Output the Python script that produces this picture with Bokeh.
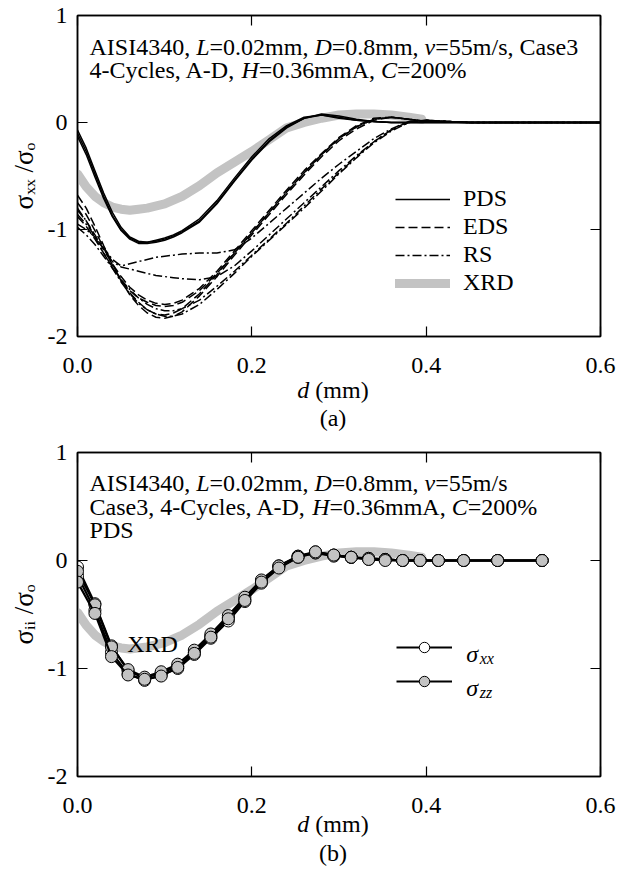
import math
from bokeh.plotting import figure
from bokeh.models import (Range1d, FixedTicker, LinearAxis, Label, Legend,
                          LegendItem, PrintfTickFormatter, Div)
from bokeh.layouts import column
from bokeh.embed import file_html
from bokeh.resources import INLINE

# ---------------- data ----------------
x_ticks = [0.0, 0.2, 0.4, 0.6]
y_ticks = [-2, -1, 0, 1]

# panel (a): depth grid and stress curves
d_a = [0.0, 0.01, 0.02, 0.03, 0.04, 0.05, 0.06, 0.07, 0.08, 0.09, 0.10, 0.11, 0.12,
       0.14, 0.16, 0.18, 0.20, 0.22, 0.24, 0.26, 0.28, 0.30, 0.32, 0.34, 0.36, 0.38,
       0.40, 0.45, 0.50, 0.55, 0.60]
pds_1 = [-0.07, -0.24, -0.45, -0.66, -0.84, -0.98, -1.07, -1.11, -1.12, -1.10, -1.08, -1.05, -1.01,
         -0.90, -0.73, -0.52, -0.32, -0.15, -0.03, 0.05, 0.07, 0.04, 0.02, 0.01, 0.0, 0.0,
         0.0, 0.0, 0.0, 0.0, 0.0]
pds_2 = [-0.10, -0.27, -0.48, -0.69, -0.87, -1.00, -1.08, -1.12, -1.12, -1.11, -1.09, -1.06, -1.02,
         -0.92, -0.75, -0.54, -0.34, -0.17, -0.04, 0.04, 0.07, 0.05, 0.02, 0.01, 0.0, 0.0,
         0.0, 0.0, 0.0, 0.0, 0.0]
pds_3 = [-0.13, -0.30, -0.51, -0.71, -0.88, -1.01, -1.09, -1.13, -1.13, -1.12, -1.10, -1.07, -1.03,
         -0.93, -0.76, -0.55, -0.35, -0.18, -0.05, 0.04, 0.08, 0.06, 0.03, 0.01, 0.0, 0.0,
         0.0, 0.0, 0.0, 0.0, 0.0]
eds_1 = [-0.68, -0.80, -0.97, -1.15, -1.32, -1.48, -1.61, -1.71, -1.78, -1.82, -1.83, -1.81, -1.77,
         -1.62, -1.44, -1.24, -1.05, -0.86, -0.67, -0.49, -0.32, -0.17, -0.06, 0.02, 0.05, 0.03,
         0.01, 0.0, 0.0, 0.0, 0.0]
eds_2 = [-0.75, -0.86, -1.01, -1.17, -1.33, -1.47, -1.59, -1.68, -1.75, -1.79, -1.80, -1.78, -1.74,
         -1.60, -1.42, -1.22, -1.03, -0.84, -0.65, -0.47, -0.30, -0.15, -0.04, 0.03, 0.05, 0.03,
         0.01, 0.0, 0.0, 0.0, 0.0]
eds_3 = [-0.82, -0.92, -1.05, -1.19, -1.32, -1.44, -1.54, -1.61, -1.66, -1.69, -1.70, -1.69, -1.66,
         -1.55, -1.39, -1.20, -1.01, -0.82, -0.63, -0.45, -0.29, -0.14, -0.03, 0.04, 0.05, 0.03,
         0.01, 0.0, 0.0, 0.0, 0.0]
eds_4 = [-0.88, -0.97, -1.09, -1.22, -1.35, -1.47, -1.57, -1.64, -1.68, -1.71, -1.72, -1.71, -1.68,
         -1.57, -1.41, -1.22, -1.03, -0.84, -0.65, -0.47, -0.30, -0.15, -0.04, 0.03, 0.05, 0.03,
         0.01, 0.0, 0.0, 0.0, 0.0]
rs_1 = [-0.80, -0.92, -1.07, -1.22, -1.36, -1.49, -1.60, -1.69, -1.75, -1.79, -1.81, -1.81, -1.79,
        -1.70, -1.56, -1.41, -1.25, -1.10, -0.95, -0.80, -0.64, -0.48, -0.33, -0.19, -0.08, 0.0,
        0.02, 0.0, 0.0, 0.0, 0.0]
rs_2 = [-0.98, -1.05, -1.14, -1.25, -1.36, -1.47, -1.56, -1.64, -1.70, -1.74, -1.76, -1.76, -1.74,
        -1.66, -1.53, -1.39, -1.24, -1.09, -0.94, -0.78, -0.62, -0.47, -0.32, -0.18, -0.07, 0.01,
        0.02, 0.0, 0.0, 0.0, 0.0]
rs_3 = [-0.95, -1.00, -1.07, -1.17, -1.28, -1.34, -1.32, -1.30, -1.28, -1.26, -1.25, -1.24, -1.23,
        -1.22, -1.22, -1.19, -1.08, -0.94, -0.80, -0.66, -0.52, -0.39, -0.27, -0.15, -0.06, 0.01,
        0.02, 0.0, 0.0, 0.0, 0.0]
rs_4 = [-0.86, -0.95, -1.06, -1.18, -1.30, -1.35, -1.37, -1.39, -1.41, -1.43, -1.44, -1.45, -1.46,
        -1.47, -1.44, -1.34, -1.20, -1.05, -0.90, -0.75, -0.60, -0.45, -0.31, -0.18, -0.07, 0.0,
        0.02, 0.0, 0.0, 0.0, 0.0]

# XRD measurement (both panels)
d_xrd = [0.0, 0.01, 0.02, 0.03, 0.04, 0.05, 0.06, 0.07, 0.08, 0.10, 0.12, 0.14, 0.16, 0.18,
         0.20, 0.22, 0.24, 0.26, 0.28, 0.30, 0.32, 0.34, 0.36, 0.38, 0.395]
xrd = [-0.48, -0.60, -0.69, -0.75, -0.79, -0.81, -0.82, -0.81, -0.80, -0.76, -0.69, -0.59, -0.47, -0.37,
       -0.27, -0.16, -0.05, 0.0, 0.04, 0.07, 0.08, 0.08, 0.07, 0.05, 0.03]

# panel (b): PDS nodal values
d_b = [0.0, 0.02, 0.039, 0.058, 0.077, 0.096, 0.115, 0.134, 0.153, 0.173, 0.192, 0.211, 0.231,
       0.253, 0.273, 0.294, 0.314, 0.334, 0.353, 0.373, 0.393, 0.414, 0.443, 0.482, 0.533]
sxx_1 = [-0.06, -0.40, -0.79, -1.02, -1.09, -1.04, -0.98, -0.85, -0.70, -0.53, -0.36, -0.19, -0.05,
         0.04, 0.08, 0.05, 0.03, 0.02, 0.01, 0.0, 0.0, 0.0, 0.0, 0.0, 0.0]
sxx_2 = [-0.14, -0.46, -0.85, -1.05, -1.11, -1.06, -1.00, -0.87, -0.72, -0.56, -0.38, -0.21, -0.06,
         0.03, 0.07, 0.05, 0.03, 0.01, 0.01, 0.0, 0.0, 0.0, 0.0, 0.0, 0.0]
szz_1 = [-0.10, -0.41, -0.80, -1.01, -1.08, -1.03, -0.96, -0.83, -0.68, -0.51, -0.34, -0.18, -0.05,
         0.04, 0.07, 0.04, 0.03, 0.02, 0.01, 0.0, 0.0, 0.0, 0.0, 0.0, 0.0]
szz_2 = [-0.20, -0.49, -0.89, -1.06, -1.10, -1.07, -0.99, -0.86, -0.71, -0.54, -0.37, -0.20, -0.07,
         0.03, 0.08, 0.05, 0.03, 0.01, 0.0, 0.0, 0.0, 0.0, 0.0, 0.0, 0.0]

# ---------------- style ----------------
FONT = "Liberation Serif"
FS = 24
GRAY = "#c3c3c3"

REG = {' ': 250, ',': 250, '-': 333, '.': 250, '/': 278, '=': 564, '%': 833, '(': 333, ')': 333,
       'A': 722, 'C': 667, 'D': 722, 'E': 611, 'H': 722, 'I': 333, 'L': 611, 'P': 556, 'R': 667,
       'S': 556, 'X': 722, 'a': 444, 'c': 444, 'd': 500, 'e': 444, 'i': 278, 'l': 278, 'm': 778,
       'o': 500, 's': 389, 'v': 500, 'x': 500, 'y': 500, 'z': 444, 'σ': 560}
ITA = {'L': 556, 'D': 722, 'v': 444, 'H': 722, 'C': 667, 'd': 500, 'x': 444, 'z': 389, 'i': 278,
       'o': 500, 'σ': 560}


def tw(text, italic, size):
    tab = ITA if italic else REG
    return sum(tab.get(ch, 500) for ch in text) * size / 1000.0


def rich(p, x, y, segs):
    """segs: list of (text, italic, size, shift_down_px); laid out left to right"""
    off = 0.0
    for text, italic, size, shift in segs:
        lead = len(text) - len(text.lstrip(' '))
        off += tw(' ' * lead, italic, size)
        t = text.strip(' ')
        p.add_layout(Label(x=x, y=y, x_offset=off, y_offset=-shift, text=t, text_font=FONT,
                           text_font_size=f"{size}px",
                           text_font_style="italic" if italic else "normal",
                           text_color="black", text_align="left",
                           text_baseline="alphabetic"))
        off += tw(t, italic, size) + tw(' ' * (len(text.lstrip(' ')) - len(t)), italic, size)


def style_axis(ax, labels=True, fmt=None):
    ax.major_tick_in = 10
    ax.major_tick_out = 0
    ax.minor_tick_line_color = None
    ax.axis_line_color = "black"
    ax.axis_line_width = 1.5
    ax.major_tick_line_color = "black"
    ax.major_tick_line_width = 1.2
    if labels:
        ax.major_label_text_font = FONT
        ax.major_label_text_font_style = "normal"
        ax.major_label_text_font_size = f"{FS}px"
        ax.major_label_text_color = "black"
        if fmt:
            ax.formatter = PrintfTickFormatter(format=fmt)
    else:
        ax.major_label_text_font_size = "2px"
        ax.major_label_text_color = None
        ax.major_label_standoff = 0


def make_fig(height, bottom_border, ylabel):
    p = figure(width=622, height=height, output_backend="svg", toolbar_location=None,
               x_range=Range1d(0, 0.6), y_range=Range1d(-2, 1),
               min_border_left=77, min_border_right=22, min_border_top=15,
               min_border_bottom=bottom_border)
    p.grid.visible = False
    p.outline_line_color = "black"
    p.outline_line_width = 1.5
    p.xaxis.ticker = FixedTicker(ticks=x_ticks)
    p.yaxis.ticker = FixedTicker(ticks=y_ticks)
    style_axis(p.xaxis[0], True, "%.1f")
    style_axis(p.yaxis[0], True, "%d")
    p.xaxis.major_label_standoff = 21
    p.yaxis.major_label_standoff = 10
    p.yaxis.axis_label = ylabel
    p.yaxis.axis_label_text_font = FONT
    p.yaxis.axis_label_text_font_style = "normal"
    p.yaxis.axis_label_text_font_size = "27px"
    p.yaxis.axis_label_text_color = "black"
    p.yaxis.axis_label_standoff = 6
    top = LinearAxis(ticker=FixedTicker(ticks=x_ticks))
    style_axis(top, False)
    p.add_layout(top, "above")
    right = LinearAxis(ticker=FixedTicker(ticks=y_ticks))
    style_axis(right, False)
    p.add_layout(right, "right")
    return p


def caption_div(caption, height, shift, lh):
    html = ('<div style="margin-top:%dpx;margin-left:44px;width:578px;text-align:center;'
            'font-family:\'Liberation Serif\';font-size:24px;line-height:%dpx;color:#000;'
            'white-space:nowrap;">'
            '<i>d</i> (mm)<br>%s</div>') % (shift, lh, caption)
    return Div(text=html, width=622, height=height, margin=0,
               styles={"overflow": "visible"})


# ---------------- panel (a) ----------------
pa = make_fig(388, 52, "σₓₓ /σₒ")
r_xrd = pa.line(d_xrd, xrd, line_color=GRAY, line_width=9, line_cap="round", line_join="round")
eds_r = []
for ys in (eds_1, eds_2, eds_3, eds_4):
    eds_r.append(pa.line(d_a, ys, line_color="black", line_width=1.5, line_dash="9 4"))
rs_r = []
for ys in (rs_1, rs_2, rs_3, rs_4):
    rs_r.append(pa.line(d_a, ys, line_color="black", line_width=1.5, line_dash="9 3 2 3"))
pds_r = []
for ys in (pds_1, pds_2, pds_3):
    pds_r.append(pa.line(d_a, ys, line_color="black", line_width=1.5))

leg_a = Legend(items=[LegendItem(label="PDS", renderers=[pds_r[0]]),
                      LegendItem(label="EDS", renderers=[eds_r[0]]),
                      LegendItem(label="RS", renderers=[rs_r[0]]),
                      LegendItem(label="XRD", renderers=[r_xrd])],
               location=(318, 40), orientation="vertical", padding=0, spacing=1,
               glyph_width=55, glyph_height=26, label_height=26, label_standoff=13,
               label_text_font=FONT, label_text_font_size=f"{FS}px", label_text_color="black",
               border_line_color=None, background_fill_alpha=0)
pa.add_layout(leg_a)

rich(pa, 0.0138, 0.710, [("AISI4340, ", False, FS, 0), ("L", True, FS, 0), ("=0.02mm, ", False, FS, 0),
                         ("D", True, FS, 0), ("=0.8mm, ", False, FS, 0), ("v", True, FS, 0),
                         ("=55m/s, Case3", False, FS, 0)])
rich(pa, 0.0138, 0.486, [("4-Cycles, A-D, ", False, FS, 0), ("H", True, FS, 0),
                         ("=0.36mmA, ", False, FS, 0), ("C", True, FS, 0), ("=200%", False, FS, 0)])
div_a = caption_div("(a)", 49, -12, 28)

# ---------------- panel (b) ----------------
pb = make_fig(391, 52, "σᵢᵢ /σₒ")
pb.line(d_xrd, xrd, line_color=GRAY, line_width=9, line_cap="round", line_join="round")
lx = []
for ys in (sxx_1, sxx_2):
    l = pb.line(d_b, ys, line_color="black", line_width=2.2)
    s = pb.scatter(d_b, ys, marker="circle", size=12, fill_color="white", line_color="black",
                   line_width=1)
    lx.append((l, s))
lz = []
for ys in (szz_1, szz_2):
    l = pb.line(d_b, ys, line_color="black", line_width=2.2)
    s = pb.scatter(d_b, ys, marker="circle", size=12, fill_color=GRAY, line_color="black",
                   line_width=1)
    lz.append((l, s))

leg_b = Legend(items=[LegendItem(label=" ", renderers=list(lx[0])),
                      LegendItem(label=" ", renderers=list(lz[0]))],
               location=(319, 82), orientation="vertical", padding=0, spacing=8,
               glyph_width=56, glyph_height=26, label_height=26, label_standoff=13,
               label_text_font=FONT, label_text_font_size=f"{FS}px",
               border_line_color=None, background_fill_alpha=0)
pb.add_layout(leg_b)
rich(pb, 0.446, -0.866, [("σ", True, FS, 0), ("xx", True, 16, 4)])
rich(pb, 0.446, -1.181, [("σ", True, FS, 0), ("zz", True, 16, 4)])

pb.add_layout(Label(x=0.057, y=-0.769, text="XRD", text_font=FONT, text_font_size=f"{FS}px",
                    text_align="left", text_baseline="alphabetic", text_color="black"))

rich(pb, 0.0138, 0.713, [("AISI4340, ", False, FS, 0), ("L", True, FS, 0), ("=0.02mm, ", False, FS, 0),
                         ("D", True, FS, 0), ("=0.8mm, ", False, FS, 0), ("v", True, FS, 0),
                         ("=55m/s", False, FS, 0)])
rich(pb, 0.0138, 0.500, [("Case3, 4-Cycles, A-D, ", False, FS, 0), ("H", True, FS, 0),
                         ("=0.36mmA, ", False, FS, 0), ("C", True, FS, 0), ("=200%", False, FS, 0)])
rich(pb, 0.0138, 0.278, [("PDS", False, FS, 0)])
div_b = caption_div("(b)", 47, -18, 29)

layout = column(pa, div_a, pb, div_b, spacing=0)
open("out.html", "w").write(file_html(layout, INLINE))
